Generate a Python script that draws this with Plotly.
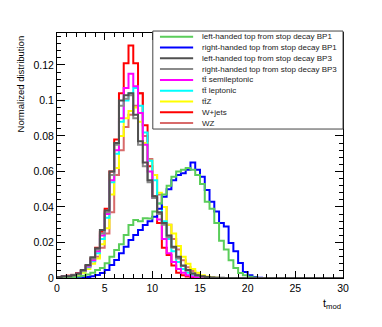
import plotly.graph_objects as go

# bin edges: 60 bins of width 0.5 from 0 to 30
bin_edges = [0.5 * i for i in range(61)]

labels = [
    "left-handed top from stop decay BP1",
    "right-handed top from stop decay BP1",
    "left-handed top from stop decay BP3",
    "right-handed top from stop decay BP3",
    "tt\u0304 semileptonic",
    "tt\u0304 leptonic",
    "tt\u0304Z",
    "W+jets",
    "WZ",
]
colors = ["#5acd5a", "#0000ff", "#505050", "#8a8a8a", "#ff00ff",
          "#00ffff", "#ffff00", "#ff0000", "#d86a6a"]

lh_bp1 = [0, 0, 0.0002, 0.0004, 0.0008, 0.0013, 0.002, 0.003, 0.0045, 0.0056,
          0.0083, 0.012, 0.0158, 0.019, 0.0242, 0.0299, 0.0327, 0.032, 0.0336, 0.0335,
          0.0374, 0.042, 0.047, 0.052, 0.057, 0.06, 0.061, 0.062, 0.061, 0.058,
          0.053, 0.043, 0.039, 0.031, 0.021, 0.016, 0.010, 0.0056, 0.0028, 0.0016,
          0.0007, 0.0003, 0, 0, 0, 0, 0, 0, 0, 0,
          0, 0, 0, 0, 0, 0, 0, 0, 0, 0]
rh_bp1 = [0, 0, 0, 0, 0.0001, 0.0003, 0.0006, 0.001, 0.0017, 0.0028,
          0.0045, 0.0073, 0.0101, 0.0139, 0.0176, 0.0214, 0.0242, 0.027, 0.0299, 0.032,
          0.0345, 0.039, 0.0458, 0.05, 0.055, 0.058, 0.059, 0.061, 0.065, 0.061,
          0.057, 0.0496, 0.043, 0.0374, 0.031, 0.029, 0.0197, 0.015, 0.0085, 0.0034,
          0.0015, 0.0006, 0.0002, 0, 0, 0, 0, 0, 0, 0,
          0, 0, 0, 0, 0, 0, 0, 0, 0, 0]
lh_bp3 = [0.0005, 0.001, 0.001, 0.0015, 0.0025, 0.0045, 0.0073, 0.0117, 0.0167, 0.027,
          0.038, 0.06, 0.076, 0.1, 0.103, 0.104, 0.092, 0.077, 0.065, 0.055,
          0.046, 0.037, 0.031, 0.024, 0.0176, 0.012, 0.007, 0.0045, 0.0026, 0.0015,
          0.001, 0.0006, 0.0003, 0.0002, 0.0001, 0, 0, 0, 0, 0,
          0, 0, 0, 0, 0, 0, 0, 0, 0, 0,
          0, 0, 0, 0, 0, 0, 0, 0, 0, 0]
rh_bp3 = [0.0005, 0.0008, 0.001, 0.0015, 0.0022, 0.004, 0.007, 0.011, 0.016, 0.025,
          0.037, 0.058, 0.075, 0.097, 0.101, 0.103, 0.09, 0.075, 0.063, 0.054,
          0.045, 0.036, 0.03, 0.023, 0.017, 0.011, 0.0068, 0.0042, 0.0025, 0.0014,
          0.0009, 0.0005, 0.0003, 0.0001, 0, 0, 0, 0, 0, 0,
          0, 0, 0, 0, 0, 0, 0, 0, 0, 0,
          0, 0, 0, 0, 0, 0, 0, 0, 0, 0]
tt_semilep = [0.0004, 0.0008, 0.001, 0.0015, 0.0024, 0.004, 0.0065, 0.01, 0.015, 0.024,
              0.036, 0.055, 0.072, 0.09, 0.107, 0.115, 0.108, 0.093, 0.075, 0.06,
              0.045, 0.033, 0.022, 0.014, 0.009, 0.005, 0.003, 0.0015, 0.0008, 0.0004,
              0, 0, 0, 0, 0, 0, 0, 0, 0, 0,
              0, 0, 0, 0, 0, 0, 0, 0, 0, 0,
              0, 0, 0, 0, 0, 0, 0, 0, 0, 0]
tt_lep = [0.0004, 0.0007, 0.001, 0.0014, 0.0022, 0.0038, 0.006, 0.0095, 0.014, 0.022,
          0.034, 0.054, 0.07, 0.088, 0.1, 0.104, 0.107, 0.097, 0.082, 0.066,
          0.055, 0.042, 0.032, 0.022, 0.015, 0.009, 0.005, 0.003, 0.0015, 0.0008,
          0.0004, 0, 0, 0, 0, 0, 0, 0, 0, 0,
          0, 0, 0, 0, 0, 0, 0, 0, 0, 0,
          0, 0, 0, 0, 0, 0, 0, 0, 0, 0]
ttz = [0.0003, 0.0005, 0.0008, 0.0012, 0.0018, 0.003, 0.005, 0.008, 0.011, 0.019,
       0.028, 0.047, 0.062, 0.08, 0.09, 0.094, 0.096, 0.088, 0.076, 0.066,
       0.058, 0.048, 0.04, 0.03, 0.025, 0.018, 0.012, 0.008, 0.005, 0.003,
       0.0015, 0.0008, 0.0004, 0.0002, 0, 0, 0, 0, 0, 0,
       0, 0, 0, 0, 0, 0, 0, 0, 0, 0,
       0, 0, 0, 0, 0, 0, 0, 0, 0, 0]
wjets = [0.0005, 0.0008, 0.0012, 0.0017, 0.0026, 0.004, 0.0068, 0.011, 0.017, 0.026,
         0.039, 0.06, 0.078, 0.104, 0.121, 0.131, 0.121, 0.104, 0.086, 0.063,
         0.046, 0.031, 0.017, 0.013, 0.007, 0.003, 0.0015, 0.0008, 0.0004, 0.0002,
         0, 0, 0, 0, 0, 0, 0, 0, 0, 0,
         0, 0, 0, 0, 0, 0, 0, 0, 0, 0,
         0, 0, 0, 0, 0, 0, 0, 0, 0, 0]
wz = [0.0004, 0.0008, 0.0012, 0.0018, 0.0028, 0.0045, 0.007, 0.0095, 0.012, 0.017,
      0.025, 0.037, 0.058, 0.072, 0.085, 0.092, 0.097, 0.104, 0.08, 0.067,
      0.058, 0.047, 0.04, 0.03, 0.022, 0.016, 0.01, 0.006, 0.004, 0.002,
      0.001, 0.0005, 0, 0, 0, 0, 0, 0, 0, 0,
      0, 0, 0, 0, 0, 0, 0, 0, 0, 0,
      0, 0, 0, 0, 0, 0, 0, 0, 0, 0]

series = [lh_bp1, rh_bp1, lh_bp3, rh_bp3, tt_semilep, tt_lep, ttz, wjets, wz]

fig = go.Figure()

# draw backgrounds first, signals on top
draw_order = [8, 7, 6, 5, 4, 1, 0, 3, 2]
for k in draw_order:
    vals = series[k]
    fig.add_trace(go.Scatter(
        x=bin_edges, y=vals + [vals[-1]],
        mode="lines", line=dict(color=colors[k], width=2, shape="hv"),
        name=labels[k], showlegend=False, hoverinfo="skip",
    ))

# hand-built ROOT-style legend (paper coordinates)
box_x0, box_x1, box_y0, box_y1 = 0.335, 1.0, 0.608, 1.008
fig.add_shape(type="rect", xref="paper", yref="paper",
              x0=box_x0, x1=box_x1, y0=box_y0, y1=box_y1,
              line=dict(color="#444444", width=1), fillcolor="white", layer="above")
row_top, row_step = 0.985, 0.0441
for k, lab in enumerate(labels):
    yy = row_top - k * row_step
    fig.add_shape(type="line", xref="paper", yref="paper",
                  x0=0.36, x1=0.476, y0=yy, y1=yy,
                  line=dict(color=colors[k], width=2), layer="above")
    fig.add_annotation(x=0.50, y=yy, xref="paper", yref="paper", text=lab,
                       showarrow=False, xanchor="left", yanchor="middle",
                       font=dict(size=8, color="#222222"))

fig.add_annotation(x=-0.126, y=1.0, xref="paper", yref="paper",
                   text="Normalized distribution", textangle=-90, showarrow=False,
                   xanchor="center", yanchor="top", font=dict(size=9.5, color="black"))
fig.add_annotation(x=1.0, y=-0.068, xref="paper", yref="paper",
                   text="t<sub>mod</sub>", showarrow=False,
                   xanchor="right", yanchor="top", font=dict(size=11, color="black"))

fig.update_xaxes(range=[0, 30], tickvals=[0, 5, 10, 15, 20, 25, 30],
                 ticks="inside", ticklen=7, tickcolor="black",
                 showline=True, linecolor="black", linewidth=1, mirror="allticks",
                 showgrid=False, zeroline=False,
                 minor=dict(ticks="inside", ticklen=4, dtick=1, tickcolor="black"),
                 tickfont=dict(size=10.5, color="black"))
fig.update_yaxes(range=[0, 0.138], tickvals=[0, 0.02, 0.04, 0.06, 0.08, 0.1, 0.12],
                 ticktext=["0", "0.02", "0.04", "0.06", "0.08", "0.1", "0.12"],
                 ticks="inside", ticklen=8, tickcolor="black",
                 showline=True, linecolor="black", linewidth=1, mirror="allticks",
                 showgrid=False, zeroline=False,
                 minor=dict(ticks="inside", ticklen=4, dtick=0.004, tickcolor="black"),
                 tickfont=dict(size=10.5, color="black"))

# page body adds an 8 px offset, so the figure is drawn 8 px smaller
fig.update_layout(
    width=374, height=319,
    margin=dict(l=49, r=39, t=25, b=49),
    plot_bgcolor="white", paper_bgcolor="white",
    font=dict(family="Liberation Sans, Arial, sans-serif"),
    showlegend=False,
)

fig.write_html("out.html")
